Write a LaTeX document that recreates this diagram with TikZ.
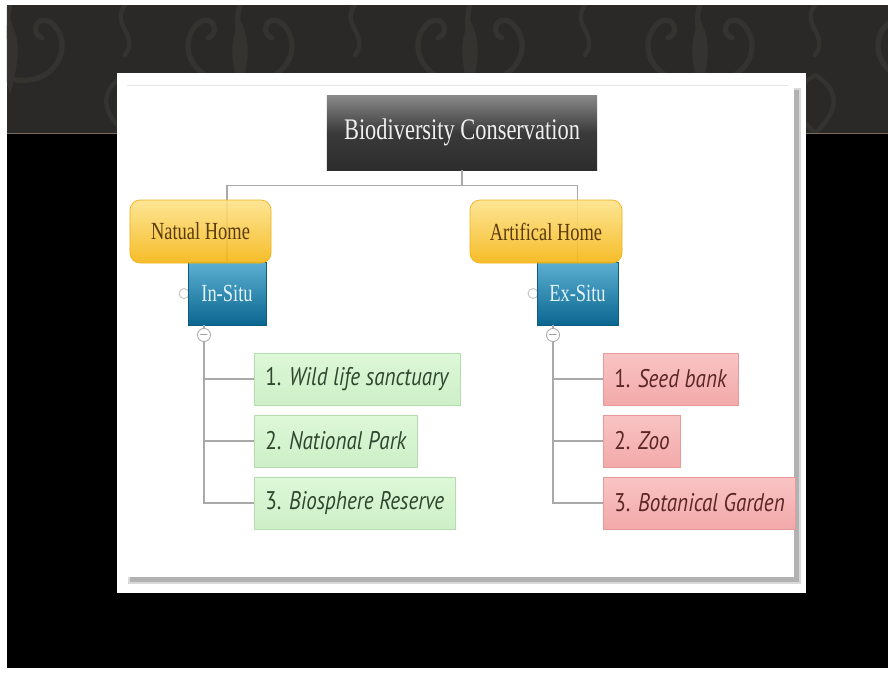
\documentclass[tikz,border=0pt]{standalone}
\usepackage{fontspec}
\usepackage{tikz}
\newfontfamily\slideserif[FakeStretch=0.75]{Liberation Serif}
\newfontfamily\slidesans[FakeStretch=0.83]{PT Sans}
\definecolor{hdrgray}{HTML}{2A2927}
\definecolor{hdrleaf}{HTML}{34332F}
\definecolor{hdrline}{HTML}{7D6E60}
\definecolor{linegray}{HTML}{A9A9A9}
\definecolor{titletop}{HTML}{8A8A8A}
\definecolor{titlemid}{HTML}{3A3A3A}
\definecolor{titlebot}{HTML}{2D2D2D}
\definecolor{titletext}{HTML}{EFEFEF}
\definecolor{goldtop}{HTML}{FDE38A}
\definecolor{goldbot}{HTML}{F6B612}
\definecolor{goldedge}{HTML}{F0B21C}
\definecolor{hometext}{HTML}{5C3B0B}
\definecolor{bluetop}{HTML}{5CB0D2}
\definecolor{bluebot}{HTML}{0B6690}
\definecolor{blueedge}{HTML}{0A5C82}
\definecolor{situtext}{HTML}{E3F3FA}
\definecolor{leaftop}{HTML}{DDF8D8}
\definecolor{leafbot}{HTML}{CDEFC7}
\definecolor{leafedge}{HTML}{B3DDAB}
\definecolor{leaftext}{HTML}{2F472F}
\definecolor{rosetop}{HTML}{F9C4C4}
\definecolor{rosebot}{HTML}{F3A9A9}
\definecolor{roseedge}{HTML}{E69A9A}
\definecolor{rosetext}{HTML}{5A2626}

\begin{document}
\begin{tikzpicture}[scale=0.2]
  \tikzstyle{every node}+=[inner sep=0pt]
  \tikzstyle{headbox}=[minimum width=5.4cm, minimum height=1.5cm, top color=titletop, bottom color=titlebot, middle color=titlemid, text=titletext, font=\slideserif\fontsize{17}{20}\selectfont]
  \tikzstyle{homebox}=[rounded corners=0.2cm, minimum height=1.26cm, top color=goldtop, bottom color=goldbot, draw=goldedge, line width=0.4pt, fill opacity=0.9, draw opacity=1, text opacity=1, text=hometext, font=\slideserif\fontsize{14}{16}\selectfont]
  \tikzstyle{situbox}=[minimum height=1.26cm, top color=bluetop, bottom color=bluebot, draw=blueedge, line width=0.4pt, text=situtext, font=\slideserif\fontsize{14}{16}\selectfont]
  \tikzstyle{leafbox}=[anchor=west, minimum height=1.04cm, inner xsep=0.22cm, top color=leaftop, bottom color=leafbot, draw=leafedge, line width=0.5pt, text=leaftext, font=\slidesans\fontsize{14.5}{17}\selectfont]
  \tikzstyle{rosebox}=[leafbox, top color=rosetop, bottom color=rosebot, draw=roseedge, text=rosetext]
  \tikzstyle{knob}=[circle, draw=linegray, fill=white, minimum size=0.24cm, line width=0.5pt, text=black!70, font=\fontsize{6}{6}\selectfont]
  \tikzstyle{stub}=[circle, draw=linegray!70, fill=white, minimum size=0.2cm, line width=0.5pt]
  \tikzstyle{wire}=[draw=linegray, line width=0.6pt]
  \useasboundingbox (0,0) rectangle (88.8,-67.3);
  \fill [white] (0,0) rectangle (88.8,-67.3);
  \fill [hdrgray] (0.7,-0.5) rectangle (88.8,-13.3);
  \begin{scope}
    \clip (0.7,-0.5) rectangle (88.8,-13.3);
    \foreach \cx in {1,24,47,70,93} {
      \draw [hdrleaf, line width=3pt, line cap=round]
        (\cx,-0.5) .. controls (\cx-0.8,-3) and (\cx+0.8,-5) .. (\cx,-8.5);
      \draw [hdrleaf, line width=3pt, line cap=round]
        (\cx-0.6,-8) .. controls (\cx-5,-8.5) and (\cx-6.5,-4) .. (\cx-4,-2.2)
        .. controls (\cx-2.6,-1.4) and (\cx-2,-3.4) .. (\cx-3.2,-3.8);
      \draw [hdrleaf, line width=3pt, line cap=round]
        (\cx+0.6,-8) .. controls (\cx+5,-8.5) and (\cx+6.5,-4) .. (\cx+4,-2.2)
        .. controls (\cx+2.6,-1.4) and (\cx+2,-3.4) .. (\cx+3.2,-3.8);
      \fill [hdrleaf] (\cx,-2) .. controls (\cx-1.4,-4.5) and (\cx-0.6,-7) .. (\cx,-9.5)
        .. controls (\cx+0.6,-7) and (\cx+1.4,-4.5) .. (\cx,-2);
      \draw [hdrleaf, line width=2.5pt, line cap=round]
        (\cx+11.5,-13.3) .. controls (\cx+9,-11) and (\cx+9,-9) .. (\cx+11.5,-7.5)
        .. controls (\cx+14,-9) and (\cx+14,-11) .. (\cx+11.5,-13.3);
      \draw [hdrleaf, line width=2.5pt, line cap=round]
        (\cx+11.5,-0.5) .. controls (\cx+10,-2.5) and (\cx+13,-3.5) .. (\cx+11.5,-5.5);
    }
  \end{scope}
  \fill [black] (0.7,-13.4) rectangle (88.8,-66.8);
  \draw [hdrline, line width=0.8pt] (0.7,-13.35) -- (88.8,-13.35);
  \fill [white] (11.7,-7.3) rectangle (80.6,-59.3);
  \fill [gray!30] (12.8,-8.8) rectangle (80.1,-58.4);
  \fill [gray!60] (13,-9) rectangle (79.9,-58.2);
  \fill [white] (11.9,-7.6) rectangle (79.4,-57.7);
  \draw [gray!20] (12.7,-8.5) -- (78.8,-8.5);

  \node [headbox] (title) at (46.2,-13.25) {Biodiversity Conservation};
  \node [stub] (ldot) at (18.4,-29.35) {};
  \node [stub] (rdot) at (53.3,-29.35) {};
  \node [situbox, minimum width=1.56cm] (insitu) at (22.7,-29.35) {In-Situ};
  \node [situbox, minimum width=1.62cm] (exsitu) at (57.75,-29.35) {Ex-Situ};
  \draw [wire] (title.south) -- ++(0,-1.5) -| (insitu.north);
  \draw [wire] (title.south) -- ++(0,-1.5) -| (exsitu.north);
  \node [homebox, minimum width=2.82cm] (natual) at (20.05,-23.15) {Natual Home};
  \node [homebox, minimum width=3.04cm] (artifical) at (54.6,-23.15) {Artifical Home};

  \node [knob] (lknob) at (20.4,-33.5) {$-$};
  \node [knob] (rknob) at (55.3,-33.5) {$-$};
  \node [leafbox] (wild) at (25.4,-37.9) {1. \textit{Wild life sanctuary}};
  \node [leafbox] (park) at (25.4,-44.1) {2. \textit{National Park}};
  \node [leafbox] (bio) at (25.4,-50.3) {3. \textit{Biosphere Reserve}};
  \node [rosebox] (seed) at (60.3,-37.9) {1. \textit{Seed bank}};
  \node [rosebox] (zoo) at (60.3,-44.1) {2. \textit{Zoo}};
  \node [rosebox] (garden) at (60.3,-50.3) {3. \textit{Botanical Garden}};
  \draw [wire] (insitu.south -| lknob) -- (lknob.north);
  \draw [wire] (lknob.south) -- (lknob.south |- bio.west) -- (bio.west);
  \draw [wire] (lknob.south |- wild.west) -- (wild.west);
  \draw [wire] (lknob.south |- park.west) -- (park.west);
  \draw [wire] (exsitu.south -| rknob) -- (rknob.north);
  \draw [wire] (rknob.south) -- (rknob.south |- garden.west) -- (garden.west);
  \draw [wire] (rknob.south |- seed.west) -- (seed.west);
  \draw [wire] (rknob.south |- zoo.west) -- (zoo.west);
\end{tikzpicture}
\end{document}
